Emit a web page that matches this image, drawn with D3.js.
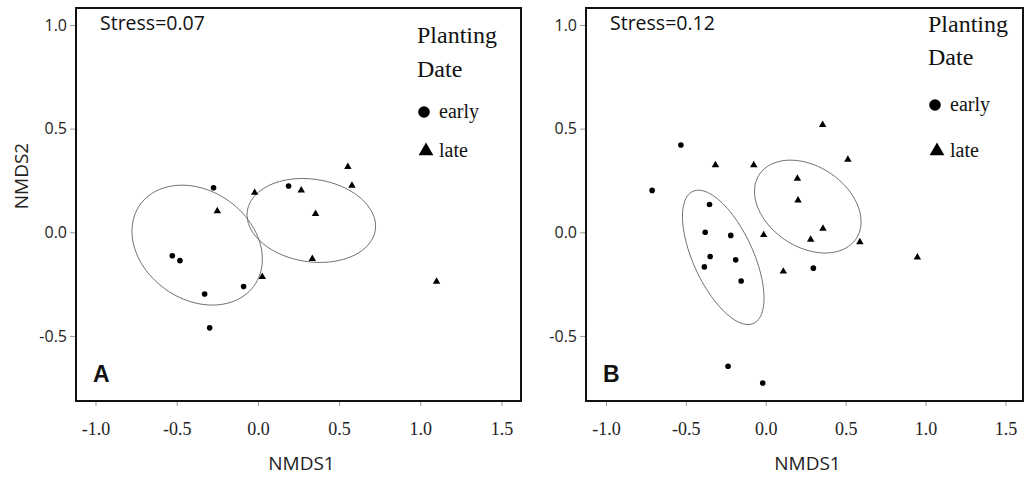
<!DOCTYPE html>
<html>
<head>
<meta charset="utf-8">
<script src="https://cdn.jsdelivr.net/npm/d3@7"></script>
<style>
  body { margin: 0; background: #fff; }
  svg { display: block; }
</style>
</head>
<body>
<div id="holder"></div>
<script>
// NMDS scores
const xTicks = [-1.0, -0.5, 0.0, 0.5, 1.0, 1.5];
const yTicks = [-0.5, 0.0, 0.5, 1.0];

const earlyA = [[-0.273, 0.215], [-0.527, -0.113], [-0.48, -0.137], [-0.328, -0.298],
  [-0.088, -0.262], [-0.297, -0.461], [0.189, 0.223]];
const lateA = [[-0.25, 0.102], [-0.02, 0.191], [0.267, 0.202], [0.355, 0.089], [0.554, 0.316],
  [0.579, 0.225], [0.335, -0.128], [0.027, -0.215], [1.1, -0.238]];
// cx, cy, semi-axis a, semi-axis b, angle (deg)
const ellipsesA = [[-0.374, -0.062, 0.412, 0.274, -17.5], [0.329, 0.057, 0.397, 0.20, -5.3]];

const earlyB = [[-0.531, 0.421], [-0.711, 0.202], [-0.352, 0.134], [-0.379, 0.0], [-0.219, -0.015],
  [-0.348, -0.117], [-0.384, -0.167], [-0.188, -0.133], [-0.154, -0.235], [0.298, -0.173],
  [-0.236, -0.646], [-0.019, -0.727]];
const lateB = [[-0.315, 0.324], [-0.075, 0.324], [0.356, 0.518], [0.198, 0.259], [0.202, 0.154],
  [-0.013, -0.013], [0.358, 0.018], [0.281, -0.035], [0.11, -0.189], [0.514, 0.351],
  [0.589, -0.047], [0.949, -0.121]];
const ellipsesB = [[-0.266, -0.121, 0.373, 0.176, -55.8], [0.263, 0.124, 0.346, 0.204, -19.3]];

const stressLabels = ['Stress=0.07', 'Stress=0.12'];
const panelLetters = ['A', 'B'];
const legendTitle = ['Planting', 'Date'];
const legendItems = ['early', 'late'];

let cfg = {
  width: 1026,
  height: 477,
  serif: '"Liberation Serif", "Times New Roman", serif',
  sans: '"Open Sans", "Liberation Sans", Arial, sans-serif',
  bold: '"Liberation Sans", Arial, sans-serif',
  ellipseColor: '#707070'
};

const panels = [
  { left: 76, right: 521, xDomain: [-1.12, 1.62], early: earlyA, late: lateA, ellipses: ellipsesA,
    stress: stressLabels[0], letter: panelLetters[0], legX: 417, legY: [43, 77], itemY: [112, 151] },
  { left: 586, right: 1023, xDomain: [-1.125, 1.61], early: earlyB, late: lateB, ellipses: ellipsesB,
    stress: stressLabels[1], letter: panelLetters[1], legX: 928, legY: [32, 65], itemY: [105, 151] }
];

const svg = d3.select('#holder').append('svg')
  .attr('width', cfg.width).attr('height', cfg.height);

const fmt = d => d.toFixed(1);

function ellipsePath (x, y, e) {
  let [cx, cy, a, b, ang] = e;
  let th = ang * Math.PI / 180;
  let pts = d3.range(0, 101).map(i => {
    let t = i / 100 * Math.PI * 2;
    let dx = a * Math.cos(t), dy = b * Math.sin(t);
    return [x(cx + dx * Math.cos(th) - dy * Math.sin(th)), y(cy + dx * Math.sin(th) + dy * Math.cos(th))];
  });
  return d3.line()(pts) + 'Z';
}

panels.forEach(p => {
  let top = 8, bottom = 401;
  let x = d3.scaleLinear().domain(p.xDomain).range([p.left, p.right]);
  let y = d3.scaleLinear().domain([-0.814, 1.082]).range([bottom, top]);
  let g = svg.append('g');

  // axes
  let ax = g.append('g').attr('transform', `translate(0,${bottom + 1})`)
    .call(d3.axisBottom(x).tickValues(xTicks).tickFormat(fmt).tickSize(4).tickPadding(16));
  ax.select('.domain').remove();
  ax.selectAll('line').attr('stroke', '#999');
  ax.selectAll('text').attr('font-family', cfg.serif).attr('font-size', 18).attr('fill', '#222');

  let ay = g.append('g').attr('transform', `translate(${p.left - 1},0)`)
    .call(d3.axisLeft(y).tickValues(yTicks).tickFormat(fmt).tickSize(5).tickPadding(3));
  ay.select('.domain').remove();
  ay.selectAll('line').attr('stroke', '#999');
  ay.selectAll('text').attr('font-family', cfg.sans).attr('font-size', 16).attr('fill', '#222');

  // frame
  g.append('rect').attr('x', p.left).attr('y', top)
    .attr('width', p.right - p.left).attr('height', bottom - top)
    .attr('fill', 'none').attr('stroke', '#111').attr('stroke-width', 2);

  g.append('text').attr('x', (p.left + p.right) / 2 + 3).attr('y', 470)
    .attr('text-anchor', 'middle').attr('font-family', cfg.sans).attr('font-size', 19)
    .attr('fill', '#222').text('NMDS1');

  // ellipses
  g.selectAll('.ell').data(p.ellipses).enter().append('path')
    .attr('class', 'ell').attr('d', e => ellipsePath(x, y, e))
    .attr('fill', 'none').attr('stroke', cfg.ellipseColor).attr('stroke-width', 1);

  // points
  g.selectAll('.early').data(p.early).enter().append('circle')
    .attr('class', 'early').attr('cx', d => x(d[0])).attr('cy', d => y(d[1]))
    .attr('r', 2.8).attr('fill', '#000');
  let tri = d3.symbol(d3.symbolTriangle, 24);
  g.selectAll('.late').data(p.late).enter().append('path')
    .attr('class', 'late').attr('d', tri)
    .attr('transform', d => `translate(${x(d[0])},${y(d[1])})`).attr('fill', '#000');

  // texts
  g.append('text').attr('x', p.left + 24).attr('y', 30)
    .attr('font-family', cfg.sans).attr('font-size', 19.5).attr('fill', '#111').text(p.stress);
  g.append('text').attr('x', p.left + 17).attr('y', 382)
    .attr('font-family', cfg.bold).attr('font-weight', 'bold').attr('font-size', 23)
    .attr('fill', '#111').text(p.letter);

  // legend
  legendTitle.forEach((t, i) => {
    g.append('text').attr('x', p.legX).attr('y', p.legY[i])
      .attr('font-family', cfg.serif).attr('font-size', 24).attr('fill', '#111').text(t);
  });
  g.append('circle').attr('cx', p.legX + 7).attr('cy', p.itemY[0]).attr('r', 5.8).attr('fill', '#000');
  g.append('path').attr('d', d3.symbol(d3.symbolTriangle, 95))
    .attr('transform', `translate(${p.legX + 9},${p.itemY[1]})`).attr('fill', '#000');
  legendItems.forEach((t, i) => {
    g.append('text').attr('x', p.legX + 22).attr('y', p.itemY[i] + 6)
      .attr('font-family', cfg.serif).attr('font-size', 20).attr('fill', '#111').text(t);
  });
});

svg.append('text').attr('transform', 'translate(28,176) rotate(-90)')
  .attr('text-anchor', 'middle').attr('font-family', cfg.sans).attr('font-size', 19)
  .attr('fill', '#222').text('NMDS2');
</script>
</body>
</html>
